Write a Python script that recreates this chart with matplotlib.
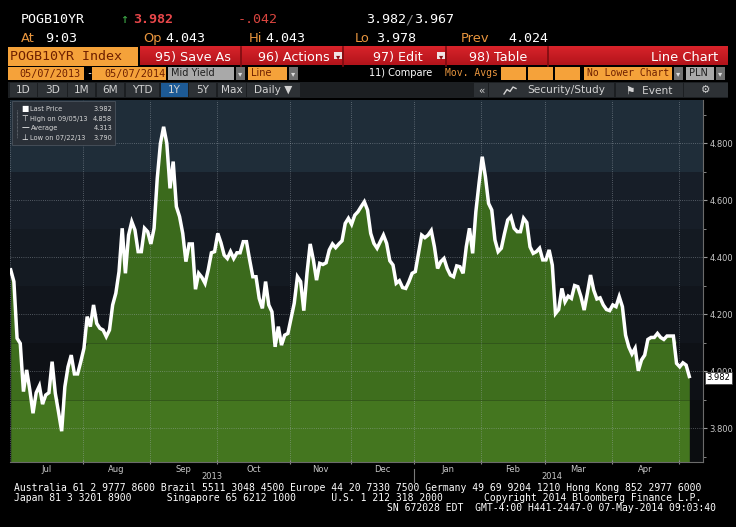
import numpy as np
import pandas as pd
import matplotlib
matplotlib.use("Agg")
import matplotlib.pyplot as plt
import matplotlib.transforms as mtransforms
from matplotlib.patches import Rectangle
from matplotlib.colors import LinearSegmentedColormap

# POGB10YR mid yield, one value per trading day
jul = [4.356, 4.315, 4.116, 4.098, 3.929, 4.005, 3.935, 3.853, 3.925, 3.949, 3.885, 3.917,
       3.925, 4.034, 3.923, 3.858, 3.790, 3.946, 4.016, 4.057, 3.991, 3.991, 4.034]
aug = [4.081, 4.192, 4.157, 4.233, 4.168, 4.151, 4.145, 4.122, 4.145, 4.233, 4.274, 4.350,
       4.502, 4.344, 4.478, 4.525, 4.496, 4.420, 4.420, 4.502, 4.490]
sep = [4.447, 4.502, 4.677, 4.800, 4.858, 4.800, 4.642, 4.736, 4.578, 4.543, 4.484, 4.385,
       4.447, 4.447, 4.288, 4.344, 4.330, 4.309, 4.356, 4.416, 4.420]
oct_ = [4.484, 4.451, 4.408, 4.396, 4.420, 4.396, 4.416, 4.416, 4.455, 4.455, 4.391, 4.332,
        4.332, 4.256, 4.221, 4.315, 4.233, 4.209, 4.086, 4.157, 4.092, 4.127, 4.133]
nov = [4.186, 4.239, 4.332, 4.315, 4.213, 4.344, 4.447, 4.391, 4.320, 4.379, 4.375, 4.381,
       4.426, 4.447, 4.434, 4.447, 4.458, 4.519, 4.537]
dec = [4.516, 4.548, 4.560, 4.578, 4.595, 4.566, 4.484, 4.449, 4.432, 4.455, 4.478, 4.449,
       4.388, 4.373, 4.309, 4.318, 4.294, 4.291, 4.315, 4.344]
jan = [4.350, 4.414, 4.478, 4.469, 4.478, 4.494, 4.437, 4.361, 4.385, 4.396, 4.361, 4.338,
       4.332, 4.370, 4.367, 4.344, 4.437, 4.502, 4.414, 4.560, 4.660]
feb = [4.753, 4.683, 4.589, 4.566, 4.461, 4.420, 4.432, 4.484, 4.531, 4.543, 4.502, 4.490,
       4.490, 4.537, 4.522, 4.437, 4.414, 4.420, 4.432, 4.391]
mar = [4.391, 4.426, 4.373, 4.203, 4.217, 4.291, 4.244, 4.264, 4.256, 4.301, 4.297, 4.262,
       4.215, 4.274, 4.338, 4.285, 4.254, 4.258, 4.233, 4.217, 4.213]
apr = [4.233, 4.227, 4.262, 4.227, 4.127, 4.086, 4.061, 4.081, 4.002, 4.040, 4.057, 4.112,
       4.119, 4.119, 4.133, 4.119, 4.112, 4.124, 4.124, 4.124, 4.028]
may = [4.016, 4.030, 4.022, 3.982]

holidays = ["2013-08-15", "2013-11-01", "2013-11-11", "2013-12-25", "2013-12-26",
            "2014-01-01", "2014-01-06", "2014-04-21", "2014-05-01"]

legend_rows = [("Last Price", "3.982"), ("High on 09/05/13", "4.858"),
               ("Average", "4.313"), ("Low on 07/22/13", "3.790")]

values = np.array(jul + aug + sep + oct_ + nov + dec + jan + feb + mar + apr + may)
dates = pd.bdate_range("2013-07-01", "2014-05-07", freq="C", holidays=holidays)
n = len(values)
x = np.arange(n)

MONO = "DejaVu Sans Mono"
SANS = "DejaVu Sans"
ORANGE = "#f5a23a"
ORANGE_TXT = "#e8953e"
DARK_TXT = "#6e1f00"

fig = plt.figure(figsize=(7.36, 5.27), dpi=100, facecolor="black")

# ---------------- chart ----------------
ax = fig.add_axes([10 / 736, 65 / 527, 693 / 736, 362 / 527])
ax.set_facecolor("#0b0d10")
ax.set_xlim(-0.22, n - 1 + 4.3)
ax.set_ylim(3.682, 4.952)

bg_bands = [(3.5, 3.9, "#0b0d10"), (3.9, 4.1, "#0e1116"), (4.1, 4.3, "#11151c"),
            (4.3, 4.5, "#141a22"), (4.5, 4.7, "#171e28"), (4.7, 5.1, "#1f2d39")]
for lo, hi, c in bg_bands:
    ax.axhspan(lo, hi, color=c, lw=0, zorder=0)

green_bands = [(3.5, 3.9, "#44761f"), (3.9, 4.1, "#3e6e1d"), (4.1, 5.1, "#3b6a1c")]
for lo, hi, c in green_bands:
    ax.fill_between(x, lo, np.clip(values, lo, hi), color=c, lw=0, zorder=1)

starts = [0] + [i for i in range(1, n) if dates[i].month != dates[i - 1].month]
bounds = [s - 0.3 for s in starts]
for b in bounds:
    ax.axvline(b, color="#aab2bb", lw=0.6, ls=(0, (1, 1.6)), alpha=0.55, zorder=2)
for v in np.arange(3.8, 4.81, 0.2):
    ax.axhline(v, color="#aab2bb", lw=0.6, ls=(0, (1, 1.6)), alpha=0.55, zorder=2)

ax.plot(x, values, color="white", lw=2.5, solid_joinstyle="miter", zorder=4)

# axes styling
for side in ("top", "left"):
    ax.spines[side].set_visible(False)
ax.spines["right"].set_color("#6b6b6b")
ax.spines["bottom"].set_color("#6b6b6b")
ax.yaxis.tick_right()
ax.set_yticks(np.arange(3.8, 4.81, 0.2))
ax.set_yticklabels([f"{v:.3f}" for v in np.arange(3.8, 4.81, 0.2)])
ax.set_yticks(np.arange(3.7, 4.91, 0.2), minor=True)
ax.tick_params(axis="y", which="major", direction="out", length=3, color="#9a9a9a",
               labelcolor="#c8c8c8", labelsize=6, pad=1.5)
ax.tick_params(axis="y", which="minor", direction="out", length=2, color="#9a9a9a")

month_centers = [(bounds[k] + bounds[k + 1]) / 2 for k in range(len(bounds) - 1)]
ax.set_xticks(bounds[1:])
ax.set_xticklabels([])
ax.set_xticks(month_centers, minor=True)
ax.set_xticklabels([dates[s].strftime("%b") for s in starts[:-1]], minor=True)
ax.tick_params(axis="x", which="major", direction="inout", length=3, color="#8a8a8a")
ax.tick_params(axis="x", which="minor", length=0, labelcolor="#c8c8c8", labelsize=6, pad=2.5)
for lab in ax.get_xticklabels(minor=True) + ax.get_yticklabels():
    lab.set_family(SANS)

blend = mtransforms.blended_transform_factory(ax.transData, ax.transAxes)
jan_b = bounds[[dates[s].year for s in starts].index(2014)]
ax.text((bounds[0] + jan_b) / 2, -0.04, "2013", transform=blend, ha="center", va="center",
        size=6, color="#c8c8c8")
ax.text((jan_b + n - 1) / 2, -0.04, "2014", transform=blend, ha="center", va="center",
        size=6, color="#c8c8c8")
ax.plot([jan_b, jan_b], [-0.02, -0.055], transform=blend, color="#7a7a7a", lw=0.8,
        clip_on=False)

blend_y = mtransforms.blended_transform_factory(ax.transAxes, ax.transData)
ax.annotate(f"{values[-1]:.3f}", xy=(1.0, values[-1]), xycoords=blend_y, xytext=(2.5, -1),
            textcoords="offset points", size=6, color="black", va="center", ha="left",
            annotation_clip=False, zorder=6,
            bbox=dict(boxstyle="square,pad=0.18", fc="white", ec="#444444", lw=0.6))

# ---------------- terminal chrome (pixel coordinates) ----------------
ui = fig.add_axes([0, 0, 1, 1], zorder=3)
ui.set_xlim(0, 736)
ui.set_ylim(527, 0)
ui.axis("off")


def box(x0, x1, y0, y1, color, ec="none", lw=0):
    ui.add_patch(Rectangle((x0, y0), x1 - x0, y1 - y0, facecolor=color, edgecolor=ec, lw=lw))


def txt(xp, yp, s, color="white", size=9.6, family=MONO, ha="left", weight="normal"):
    ui.text(xp, yp, s, color=color, size=size, family=family, ha=ha, va="baseline",
            weight=weight)


# quote lines
txt(21, 23.3, "POGB10YR")
txt(120, 23.3, "\u2191", color="#3fae49")
txt(133, 23.3, "3.982", color="#e8474a", weight="bold")
txt(238, 23.3, "-.042", color="#d9453f")
txt(366, 23.3, "3.982")
txt(405, 23.3, "/", color="#8a8a8a")
txt(414, 23.3, "3.967")
for xl, lab, xv, val in [(21, "At", 45, "9:03"), (143, "Op", 165, "4.043"),
                         (249, "Hi", 265, "4.043"), (355, "Lo", 376, "3.978"),
                         (461, "Prev", 508, "4.024")]:
    txt(xl, 41.7, lab, color=ORANGE_TXT, family=SANS, size=9.4)
    txt(xv, 41.7, val)

# red menu bar
box(8, 138, 47, 65.5, ORANGE)
txt(10, 60.5, "POGB10YR Index", color=DARK_TXT)
red = LinearSegmentedColormap.from_list("red", ["#d8232a", "#b3141b"])
ui.imshow(np.linspace(0, 1, 20).reshape(-1, 1), cmap=red, aspect="auto",
          extent=(140, 728, 65.5, 47), zorder=1)
for xd in (241, 343, 446, 548):
    ui.plot([xd, xd], [47, 65.5], color="#7c0c10", lw=1.2, zorder=2)
txt(155, 60.5, "95) Save As", size=9.2, family=SANS)
txt(258, 60.5, "96) Actions", size=9.2, family=SANS)
txt(373, 60.5, "97) Edit", size=9.2, family=SANS)
txt(469, 60.5, "98) Table", size=9.2, family=SANS)
txt(718, 61, "Line Chart", size=9.4, family=SANS, ha="right")
for xb in (334, 437):
    box(xb, xb + 8, 52, 59, "#f0e6e6")
    txt(xb + 4, 58.6, "\u25be", color="#8a1015", size=6, family=SANS, ha="center")

# settings row
box(8, 84, 66.5, 80, ORANGE)
txt(19, 76.5, "05/07/2013", color=DARK_TXT, size=7.3)
txt(86, 76.5, "-", color="white", size=7.3)
box(92, 166, 66.5, 80, ORANGE)
txt(104, 76.5, "05/07/2014", color=DARK_TXT, size=7.3)
box(168, 234, 66.5, 80, "#a9a9a9")
txt(171, 76.5, "Mid Yield", color="#1e1e1e", size=7, family=SANS)
box(248, 287, 66.5, 80, ORANGE)
txt(251, 76.5, "Line", color=DARK_TXT, size=7, family=SANS)
box(686, 714, 66.5, 80, "#a9a9a9")
txt(689, 76.5, "PLN", color="#1e1e1e", size=7, family=SANS)
box(584, 672, 66.5, 80, ORANGE)
txt(587, 76.5, "No Lower Chart", color=DARK_TXT, size=7)
for xb in (236, 289, 674, 716):
    box(xb, xb + 9, 66.5, 80, "#6f6f6f")
    txt(xb + 4.5, 76, "\u25be", color="#dcdcdc", size=6, family=SANS, ha="center")
txt(369, 76.5, "11) Compare", size=7, family=SANS)
txt(445, 76.5, "Mov. Avgs", color=ORANGE_TXT, size=7)
for x0 in (501, 528, 555):
    box(x0, x0 + 25, 66.5, 80, ORANGE)

# range buttons row
box(8, 728, 81.5, 97.5, "#1c1f22")
buttons = [(10, 37, "1D", 23.5), (38, 67, "3D", 52.5), (68, 95, "1M", 81.5),
           (97, 124, "6M", 110.5), (126, 159, "YTD", 142.5), (161, 188, "1Y", 174.5),
           (189, 216, "5Y", 202.5), (218, 246, "Max", 232), (247, 300, "Daily \u25bc", 273.5),
           (474, 488, "\u00ab", 481), (489, 614, "Security/Study", 566),
           (616, 683, "\u2691  Event", 649.5), (684, 728, "\u2699", 706)]
for x0, x1, lab, xc in buttons:
    box(x0, x1, 82.5, 97, "#1d5a95" if lab == "1Y" else "#2d3135")
    txt(xc, 93.3, lab, color="#d2d2d2", size=7.6, family=SANS, ha="center")
# little chart glyph in front of Security/Study
ui.plot([504, 507, 510, 513, 516], [94, 89.5, 91.5, 87, 88.5], color="#d2d2d2", lw=1)

# legend box over the chart
box(12, 115, 101, 145, "#2a3038", ec="#4a525c", lw=0.6)
ui.plot([17, 17], [110, 138], color="#8a8f96", lw=0.5, ls=(0, (1, 1)))
icons = ["\u25a0", "\u22a4", "\u2014", "\u22a5"]
for k, (lab, val) in enumerate(legend_rows):
    yb = 111.3 + k * 9.5
    txt(25, yb, icons[k], color="white", size=5.6, family=SANS, ha="center")
    txt(30.5, yb, lab, color="#d8d8d8", size=4.8, family=SANS)
    txt(112, yb, val, color="#d8d8d8", size=4.8, family=SANS, ha="right")

# footer
txt(14, 491, "Australia 61 2 9777 8600 Brazil 5511 3048 4500 Europe 44 20 7330 7500 "
             "Germany 49 69 9204 1210 Hong Kong 852 2977 6000", size=7.05)
txt(14, 501, "Japan 81 3 3201 8900      Singapore 65 6212 1000      U.S. 1 212 318 2000"
             "       Copyright 2014 Bloomberg Finance L.P.", size=7.05)
txt(716, 511, "SN 672028 EDT  GMT-4:00 H441-2447-0 07-May-2014 09:03:40", size=7.05,
    ha="right")

fig.savefig("out.png", dpi=100, facecolor="black")
